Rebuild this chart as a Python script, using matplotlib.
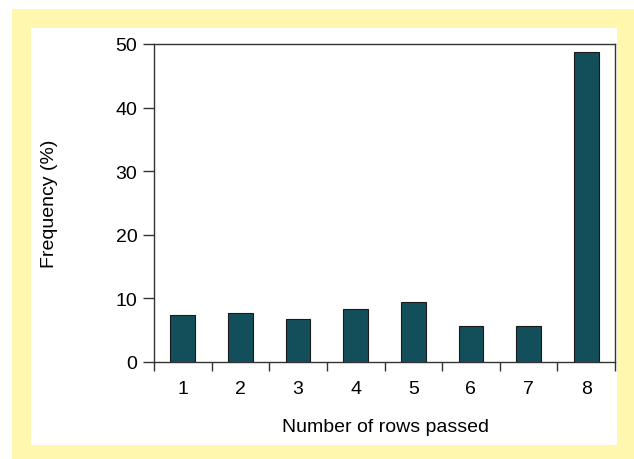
import matplotlib
matplotlib.use("Agg")
import matplotlib.pyplot as plt
from matplotlib.patches import Rectangle

categories = [1, 2, 3, 4, 5, 6, 7, 8]
frequency = [7.4, 7.75, 6.76, 8.33, 9.4, 5.66, 5.66, 48.7]
yticks = [0, 10, 20, 30, 40, 50]

W, H = 634, 460
fig = plt.figure(figsize=(W / 100, H / 100), dpi=100, facecolor="white")
plt.rcParams["font.family"] = ["Liberation Sans", "DejaVu Sans"]
FS = 14

def px_rect(x0, y0, x1, y1, color):
    fig.patches.append(Rectangle((x0 / W, 1 - y1 / H), (x1 - x0) / W, (y1 - y0) / H,
                                 transform=fig.transFigure, facecolor=color,
                                 edgecolor="none", zorder=-5))

px_rect(12, 10, 634, 460, "#fff7ad")
px_rect(31, 29, 617, 446, "white")

left, right, top, bottom = 154, 615, 45, 363
ax = fig.add_axes([left / W, 1 - bottom / H, (right - left) / W, (bottom - top) / H])
ax.set_zorder(5)
ax.set_facecolor("none")

ax.bar(categories, frequency, width=0.43, color="#134f5a", edgecolor="#1a1a1a",
       linewidth=0.8, zorder=3)

ax.set_xlim(0.5, 8.5)
ax.set_ylim(0, 50)

ax.set_yticks(yticks)
ax.set_yticklabels([str(v) for v in yticks], fontsize=FS)
ax.set_xticks([c - 0.5 for c in categories] + [8.5])
ax.set_xticklabels([])
ax.set_xticks(categories, minor=True)
ax.set_xticklabels([str(c) for c in categories], minor=True, fontsize=FS)
ax.tick_params(axis="x", which="minor", length=0, pad=13)
ax.tick_params(axis="x", which="major", length=6.5, width=1, color="#333333")
ax.tick_params(axis="y", length=8, width=1, color="#333333", pad=4)

for s in ["left", "top", "right", "bottom"]:
    ax.spines[s].set_color("#333333")
    ax.spines[s].set_linewidth(1)

fig.text(49 / W, 1 - 204 / H, "Frequency (%)", rotation=90, ha="center", va="center",
         fontsize=FS)
fig.text(385 / W, 1 - 428 / H, "Number of rows passed", ha="center", va="center",
         fontsize=FS)

fig.savefig("out.png", dpi=100, facecolor="white")
